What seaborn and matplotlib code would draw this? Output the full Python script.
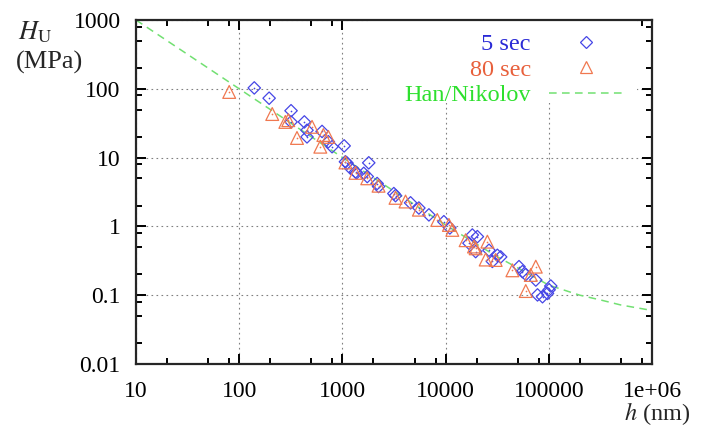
import pandas as pd
import seaborn as sns
import matplotlib.pyplot as plt
from matplotlib.lines import Line2D
from matplotlib.patches import Rectangle
from matplotlib.ticker import FixedLocator, FixedFormatter, LogLocator, NullFormatter

# 5 sec indentation data (h in nm, H_U in MPa)
h_5s = [140, 195, 318, 318, 428, 454, 454, 635, 731, 794, 1040, 1110, 1070, 1200,
        1340, 1370, 1610, 1740, 1800, 2170, 2240, 3150, 3270, 4575, 5510, 6890,
        9620, 11000, 16830, 18160, 19550, 20320, 26330, 28380, 31750, 34170,
        51440, 55530, 59820, 74800, 77700, 86900, 97100, 100700, 104500]
H_5s = [103, 73, 48, 33, 33, 25, 20, 24, 17, 14.4, 14.8, 8.3, 8.7, 7.0,
        6.2, 6.0, 5.9, 5.3, 8.4, 4.2, 3.8, 3.0, 2.8, 2.2, 1.85, 1.47,
        1.17, 0.95, 0.57, 0.75, 0.43, 0.71, 0.45, 0.31, 0.38, 0.36,
        0.26, 0.22, 0.20, 0.166, 0.101, 0.095, 0.106, 0.12, 0.136]

# 80 sec indentation data
h_80s = [80, 209, 280, 299, 363, 508, 611, 654, 731, 1070, 1340, 1740, 2240,
         3270, 4090, 5510, 8300, 10770, 11620, 15630, 18830, 19550, 24450,
         25400, 30560, 44390, 59820, 66830, 74800]
H_80s = [90, 43, 33, 35, 19.3, 28, 14.4, 21.3, 20, 8.5, 6.0, 5.0, 3.9,
         2.6, 2.3, 1.75, 1.24, 1.05, 0.89, 0.63, 0.51, 0.48, 0.33,
         0.60, 0.325, 0.23, 0.115, 0.197, 0.26]

# Han/Nikolov model curve
h_model = [10, 100, 1000, 10000, 30000, 100000, 200000, 320000, 500000, 1000000]
H_model = [1000, 100, 10.05, 1.05, 0.38, 0.14, 0.10, 0.085, 0.072, 0.06]

x_ticks = [10, 100, 1000, 10000, 100000, 1000000]
x_labels = ["10", "100", "1000", "10000", "100000", "1e+06"]
y_ticks = [0.01, 0.1, 1, 10, 100, 1000]
y_labels = ["0.01", "0.1", "1", "10", "100", "1000"]

blue = "#4646e6"
blue_txt = "#2a2ad6"
orange = "#f07850"
orange_txt = "#e8603c"
green = "#72e072"
green_txt = "#2ee02e"

sns.set_style("ticks")
plt.rcParams["font.family"] = ["Liberation Serif", "DejaVu Serif"]
plt.rcParams["mathtext.fontset"] = "stix"

fig = plt.figure(figsize=(7.06, 4.26), dpi=100)
ax = fig.add_axes([136 / 706, 62 / 426, 516 / 706, 344 / 426])

sns.lineplot(x=h_model, y=H_model, ax=ax, color=green, linewidth=1.1,
             linestyle=(0, (5, 3.5)), sort=False, estimator=None, zorder=2)

sns.scatterplot(x=h_5s, y=H_5s, ax=ax, marker="D", s=40, facecolor="none",
                edgecolor=blue, linewidth=0.9, zorder=3)
sns.scatterplot(x=h_5s, y=H_5s, ax=ax, marker="o", s=1.5, color=blue,
                linewidth=0, zorder=3)
sns.scatterplot(x=h_80s, y=H_80s, ax=ax, marker="^", s=85, facecolor="none",
                edgecolor=orange, linewidth=0.9, zorder=3)
sns.scatterplot(x=h_80s, y=H_80s, ax=ax, marker="o", s=1.5, color=orange,
                linewidth=0, zorder=3)

ax.set_xscale("log")
ax.set_yscale("log")
ax.set_xlim(10, 1e6)
ax.set_ylim(0.01, 1000)

ax.xaxis.set_major_locator(FixedLocator(x_ticks))
ax.xaxis.set_major_formatter(FixedFormatter(x_labels))
ax.yaxis.set_major_locator(FixedLocator(y_ticks))
ax.yaxis.set_major_formatter(FixedFormatter(y_labels))
ax.xaxis.set_minor_locator(LogLocator(base=10, subs=[2, 5, 8], numticks=20))
ax.yaxis.set_minor_locator(LogLocator(base=10, subs=[2, 5, 8], numticks=20))
ax.xaxis.set_minor_formatter(NullFormatter())
ax.yaxis.set_minor_formatter(NullFormatter())

ax.tick_params(which="both", direction="in", top=True, right=True, width=1.4,
               labelsize=17, colors="black")
ax.tick_params(which="major", length=7.5)
ax.tick_params(which="minor", length=4.3)
ax.tick_params(axis="x", pad=12)
ax.tick_params(axis="y", pad=11)
for sp in ax.spines.values():
    sp.set_linewidth(1.6)
    sp.set_visible(True)

ax.set_axisbelow(True)
ax.grid(which="major", linestyle=(0, (1.5, 3)), color="#808080", linewidth=0.8)
ax.set_xlabel("")
ax.set_ylabel("")

# white key box hiding the grid
ax.add_patch(Rectangle((0.4496, 0.759), 0.521, 0.2405, transform=ax.transAxes,
                       facecolor="white", edgecolor="none", zorder=1.5))

handles = [
    Line2D([], [], marker="D", markersize=6.3, markerfacecolor="none",
           markeredgecolor=blue, markeredgewidth=0.9, linestyle="none"),
    Line2D([], [], marker="^", markersize=9.2, markerfacecolor="none",
           markeredgecolor=orange, markeredgewidth=0.9, linestyle="none"),
    Line2D([], [], color=green, linewidth=1.1, linestyle=(0, (5, 3.5))),
]
leg = ax.legend(handles, ["5 sec", "80 sec", "Han/Nikolov"], markerfirst=False,
                frameon=False, loc="upper right",
                bbox_to_anchor=(622 / 706, 393 / 426), bbox_transform=fig.transFigure,
                borderpad=0, borderaxespad=0, handlelength=3.0, handletextpad=0.75,
                labelspacing=0.15, fontsize=17.5, numpoints=1)
for t, c in zip(leg.get_texts(), [blue_txt, orange_txt, green_txt]):
    t.set_color(c)

fig.text(18 / 706, 1 - 32 / 426, r"$H_{\mathrm{U}}$", fontsize=19, ha="left", va="center")
fig.text(16 / 706, 1 - 62 / 426, "(MPa)", fontsize=19, ha="left", va="center")
fig.text(690 / 706, 1 - 414 / 426, r"$h$ (nm)", fontsize=17.5, ha="right", va="center")

fig.savefig("out.png", dpi=100)
